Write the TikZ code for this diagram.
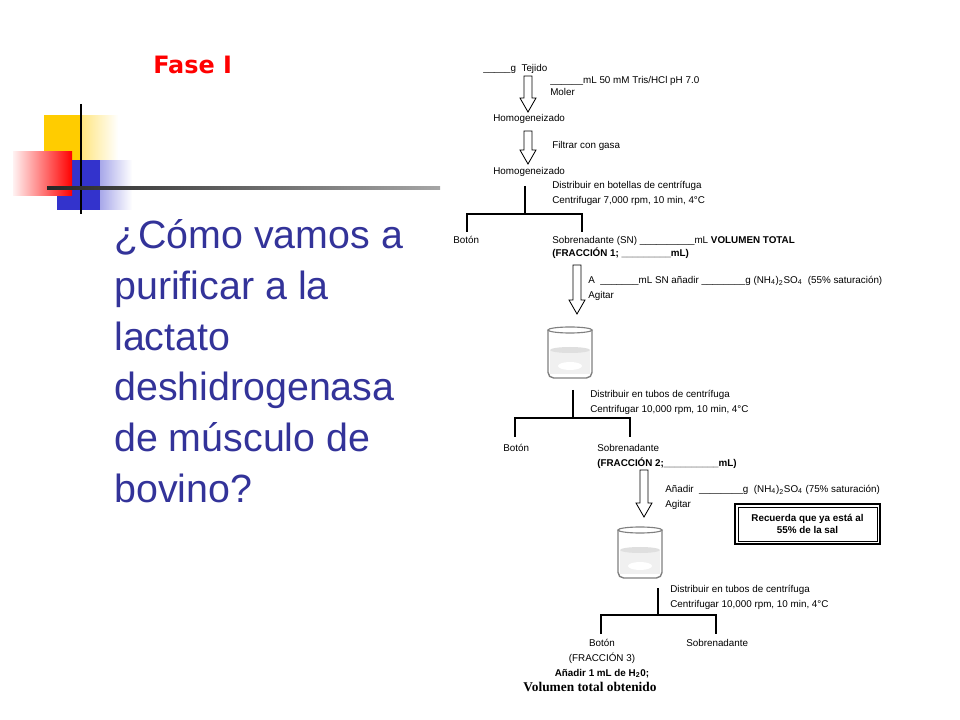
\documentclass[tikz,border=0pt]{standalone}
\usepackage{fontspec}
\setmainfont{Liberation Sans}
\newfontfamily\serifbold{Liberation Serif}
\newfontfamily\widesans{DejaVu Sans}
\usetikzlibrary{positioning,fadings,shapes.misc}
\definecolor{slateblue}{RGB}{51,51,153}
\definecolor{sunyellow}{RGB}{255,204,0}
\definecolor{squareblue}{RGB}{51,51,204}
\tikzset{
  small/.style={font=\fontsize{7}{8.5}\selectfont,inner sep=0pt,anchor=north west,align=left},
  branch/.style={line width=0.8pt},
  hollow/.style={draw,fill=white,line width=0.6pt},
}
% hollow arrow: x, top y, bottom y
\newcommand{\flowarrow}[3]{%
  \draw[hollow] (#1-4,#2) -- (#1+4,#2) -- (#1+4,#3-14) -- (#1+8,#3-14) -- (#1,#3)
    -- (#1-8,#3-14) -- (#1-4,#3-14) -- cycle;}
% beaker: centre x, top y
\newcommand{\beaker}[2]{%
  \fill[gray!12] (#1-20,#2+20) rectangle (#1+20,#2+44);
  \fill[gray!25] (#1,#2+20) ellipse (20 and 3);
  \fill[white] (#1,#2+36) ellipse (12 and 4);
  \draw[gray,line width=1pt,rounded corners=4pt] (#1-22,#2) -- (#1-22,#2+48) -- (#1+22,#2+48) -- (#1+22,#2);
  \draw[gray,line width=0.8pt] (#1,#2) ellipse (22 and 3);}
\begin{document}
\begin{tikzpicture}[x=0.025cm,y=-0.025cm]
  \useasboundingbox (0,0) rectangle (960,720);
  % decoration
  \fill[sunyellow,path fading=east] (44,115) rectangle (118,160);
  \fill[sunyellow] (44,115) rectangle (82,160);
  \fill[squareblue,path fading=east] (57,160) rectangle (132,210);
  \fill[squareblue] (57,160) rectangle (100,210);
  \shade[left color=red!5,right color=red] (13,152) rectangle (72,196);
  \draw[line width=1.5pt] (81,104) -- (81,214);
  \shade[left color=black!85,right color=black!35] (47,186.5) rectangle (440,189.5);
  % titles
  \node[text=red,font=\widesans\bfseries\fontsize{17}{20}\selectfont,anchor=west,inner sep=0pt] (fase) at (153,65) {Fase I};
  \node[text=slateblue,font=\fontsize{28}{36.2}\selectfont,anchor=north west,align=left,inner sep=0pt] (question) at (114,219)
    {¿Cómo vamos a\\purificar a la\\lactato\\deshidrogenasa\\de músculo de\\bovino?};
  % flow chart
  \node[small] (tejido) at (483,64) {\_\_\_\_\_g\ \ Tejido};
  \node[small] (buffer) at (550,76) {\_\_\_\_\_\_mL 50 mM Tris/HCl pH 7.0\\Moler};
  \flowarrow{528}{76}{112}
  \node[small] (homog1) at (493,114) {Homogeneizado};
  \flowarrow{528}{131}{164}
  \node[small] (filtrar) at (552,141) {Filtrar con gasa};
  \node[small] (homog2) at (493,167) {Homogeneizado};
  \node[small] (centri1) at (552,181) {Distribuir en botellas de centrífuga\\[2pt]Centrifugar 7,000 rpm, 10 min, 4°C};
  \node[small] (boton1) at (453,236) {Botón};
  \node[small] (sobre1) at (552,236) {Sobrenadante (SN) \_\_\_\_\_\_\_\_\_\_mL \textbf{VOLUMEN TOTAL}\\[1pt]\textbf{(FRACCIÓN 1; \_\_\_\_\_\_\_\_\_mL)}};
  \coordinate (split1) at (525,214);
  \draw[branch] (525,186) -- (split1);
  \draw[branch] (467,232) -- (467,214) -- (582,214) -- (582,232);
  \flowarrow{577}{265}{314}
  \node[small] (sal1) at (588,276) {A\ \ \_\_\_\_\_\_\_mL SN añadir \_\_\_\_\_\_\_\_g (NH\textsubscript{4})\textsubscript{2}SO\textsubscript{4}\ \ (55\% saturación)\\[2pt]Agitar};
  \beaker{570}{330}
  \coordinate (split2) at (573,418);
  \draw[branch] (573,390) -- (split2);
  \draw[branch] (515,437) -- (515,418) -- (630,418) -- (630,437);
  \node[small] (centri2) at (590,390) {Distribuir en tubos de centrífuga\\[2pt]Centrifugar 10,000 rpm, 10 min, 4°C};
  \node[small] (boton2) at (503,444) {Botón};
  \node[small] (sobre2) at (597,444) {Sobrenadante\\[2pt]\textbf{(FRACCIÓN 2;\_\_\_\_\_\_\_\_\_\_mL)}};
  \flowarrow{644}{470}{517}
  \node[small] (sal2) at (665,485) {Añadir\ \ \_\_\_\_\_\_\_\_g\ \ (NH\textsubscript{4})\textsubscript{2}SO\textsubscript{4} (75\% saturación)\\[2pt]Agitar};
  \draw[line width=1.2pt] (735,504) rectangle (880,544);
  \draw[line width=0.5pt] (738,507) rectangle (877,541);
  \node[font=\bfseries\fontsize{7}{9}\selectfont,align=center] (recuerda) at (807.5,524) {Recuerda que ya está al\\55\% de la sal};
  \beaker{640}{530}
  \coordinate (split3) at (658,615);
  \draw[branch] (658,588) -- (split3);
  \draw[branch] (601,634) -- (601,615) -- (716,615) -- (716,634);
  \node[small] (centri3) at (670,585) {Distribuir en tubos de centrífuga\\[2pt]Centrifugar 10,000 rpm, 10 min, 4°C};
  \node[small,anchor=north,align=center] (boton3) at (602,639) {Botón\\[2pt](FRACCIÓN 3)\\[2pt]\textbf{Añadir 1 mL de H\textsubscript{2}0;}};
  \node[font=\serifbold\bfseries\fontsize{9.5}{10}\selectfont,inner sep=0pt] (volumen) at (590,687) {Volumen total obtenido};
  \node[small] (sobre3) at (686,639) {Sobrenadante};
\end{tikzpicture}
\end{document}
